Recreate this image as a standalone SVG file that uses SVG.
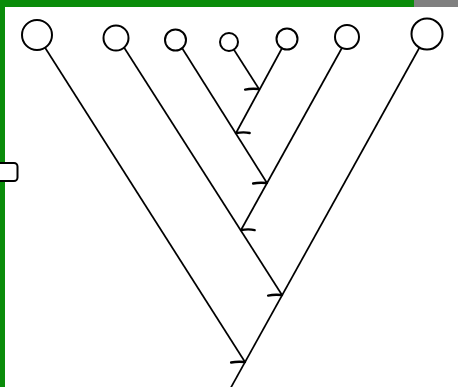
<svg xmlns="http://www.w3.org/2000/svg" width="458" height="387" viewBox="0 0 458 387">
  <defs>
    <style>
      .node { fill: #ffffff; stroke: #000000; stroke-width: 2; }
      .edge { fill: none; stroke: #000000; stroke-width: 1.7; }
      .barb { fill: none; stroke: #000000; stroke-width: 2.4; stroke-linecap: round; }
    </style>
    <marker id="barbL" markerUnits="userSpaceOnUse" orient="auto" markerWidth="30" markerHeight="30" refX="15" refY="15" viewBox="0 0 30 30" overflow="visible">
      <path class="barb" d="M15,15 Q10,21.5 8,27"/>
    </marker>
    <marker id="barbR" markerUnits="userSpaceOnUse" orient="auto" markerWidth="30" markerHeight="30" refX="15" refY="15" viewBox="0 0 30 30" overflow="visible">
      <path class="barb" d="M15,15 Q10,8.5 8.5,3"/>
    </marker>
  </defs>
  <rect x="0" y="0" width="458" height="387" fill="#ffffff"/>
  <rect x="0" y="0" width="458" height="7" fill="#0a8c0a"/>
  <rect x="0" y="0" width="5" height="387" fill="#0a8c0a"/>
  <rect x="414" y="0" width="44" height="7" fill="#808080"/>
  <rect x="-6" y="163" width="23.5" height="18" rx="3.5" fill="#ffffff" stroke="#000" stroke-width="2"/>
  <g id="connectors">
    <line class="edge" x1="37" y1="35" x2="245" y2="362" marker-end="url(#barbL)"/>
    <line class="edge" x1="118" y1="38" x2="282" y2="295" marker-end="url(#barbL)"/>
    <line class="edge" x1="177" y1="40" x2="267" y2="183" marker-end="url(#barbL)"/>
    <line class="edge" x1="229" y1="42" x2="259" y2="89" marker-end="url(#barbL)"/>
    <line class="edge" x1="287" y1="39" x2="236" y2="133" marker-end="url(#barbR)"/>
    <line class="edge" x1="348" y1="37" x2="241" y2="230" marker-end="url(#barbR)"/>
    <line class="edge" x1="427" y1="34" x2="229" y2="391"/>
  </g>
  <g id="n1"><circle class="node" cx="37" cy="35" r="15"/></g>
  <g id="n2"><circle class="node" cx="116" cy="38" r="12.5"/></g>
  <g id="n3"><circle class="node" cx="175.5" cy="40" r="10.5"/></g>
  <g id="n4"><circle class="node" cx="229" cy="42" r="9"/></g>
  <g id="n5"><circle class="node" cx="287" cy="39" r="10.5"/></g>
  <g id="n6"><circle class="node" cx="347" cy="37" r="12"/></g>
  <g id="n7"><circle class="node" cx="427" cy="34" r="15.5"/></g>
</svg>
